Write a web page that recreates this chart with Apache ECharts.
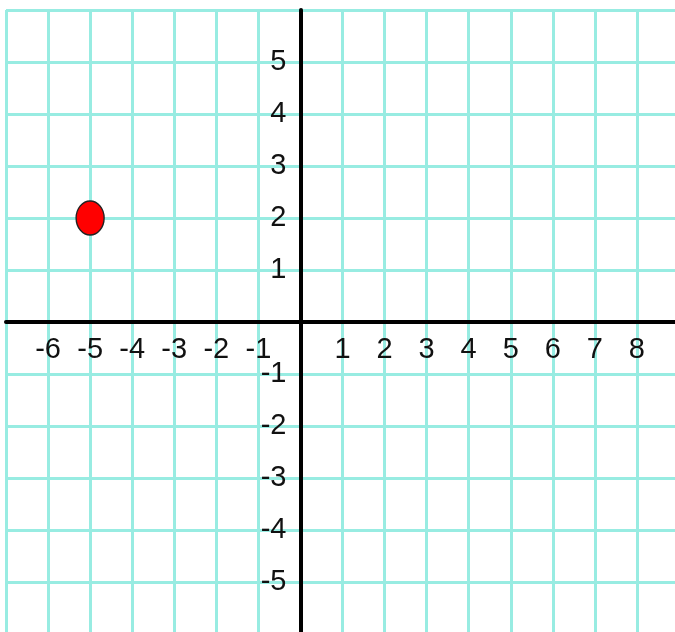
<!DOCTYPE html>
<html>
<head>
<meta charset="utf-8">
<script src="https://cdn.jsdelivr.net/npm/echarts@6/dist/echarts.min.js"></script>
<style>
  html, body { margin: 0; padding: 0; background: #fff; }
  #chart { width: 675px; height: 632px; }
</style>
</head>
<body>
<div id="chart"></div>
<script>
// 数据
var pointX = [-5];
var pointY = [2];
var xRange = [-7, 9];
var yRange = [-6, 6];
var xLabels = [-6, -5, -4, -3, -2, -1, 1, 2, 3, 4, 5, 6, 7, 8];
var yLabels = [-5, -4, -3, -2, -1, 1, 2, 3, 4, 5];

var myChart = echarts.init(document.getElementById('chart'));

var gridColor = '#98ece2';
var labelFont = '"Liberation Sans Narrow", "Arial Narrow", "Liberation Sans", sans-serif';
var gridLeft = 6, gridRight = -4, gridTop = 10, gridBottom = -2;

var option = {
    backgroundColor: '#fff',
    animation: false,
    grid: {
        left: gridLeft,
        right: gridRight,
        top: gridTop,
        bottom: gridBottom,
        outerBoundsMode: 'none'
    },
    xAxis: {
        type: 'value',
        position: 'bottom',
        offset: 0,
        min: xRange[0],
        max: xRange[1],
        interval: 1,
        axisLine: { onZero: false, lineStyle: { color: '#000', width: 4 } },
        axisTick: { show: false },
        splitLine: { lineStyle: { color: gridColor, width: 3 } },
        axisLabel: {
            margin: 13,
            color: '#111',
            fontSize: 29,
            fontFamily: labelFont,
            showMinLabel: true,
            showMaxLabel: true,
            formatter: function (v) {
                return xLabels.indexOf(v) >= 0 ? String(v) : '';
            }
        },
        z: 5
    },
    yAxis: {
        type: 'value',
        position: 'left',
        offset: 0,
        min: yRange[0],
        max: yRange[1],
        interval: 1,
        axisLine: { onZero: false, lineStyle: { color: '#000', width: 4 } },
        axisTick: { show: false },
        splitLine: { lineStyle: { color: gridColor, width: 3 } },
        axisLabel: {
            margin: 14,
            color: '#111',
            fontSize: 29,
            fontFamily: labelFont,
            formatter: function (v) {
                return yLabels.indexOf(v) >= 0 ? String(v) : '';
            }
        },
        z: 5
    },
    series: [{
        type: 'scatter',
        data: pointX.map(function (x, i) { return [x, pointY[i]]; }),
        symbol: 'circle',
        symbolSize: [28, 34],
        itemStyle: {
            color: '#ff0000',
            borderColor: '#222',
            borderWidth: 1.5,
            opacity: 1
        },
        z: 10
    }]
};

myChart.setOption(option);

// 把坐标轴移到原点位置
var origin = myChart.convertToPixel({ gridIndex: 0 }, [0, 0]);
var chartH = myChart.getHeight();
myChart.setOption({
    xAxis: { offset: -((chartH - gridBottom) - origin[1]) },
    yAxis: { offset: -(origin[0] - gridLeft) }
});
</script>
</body>
</html>
